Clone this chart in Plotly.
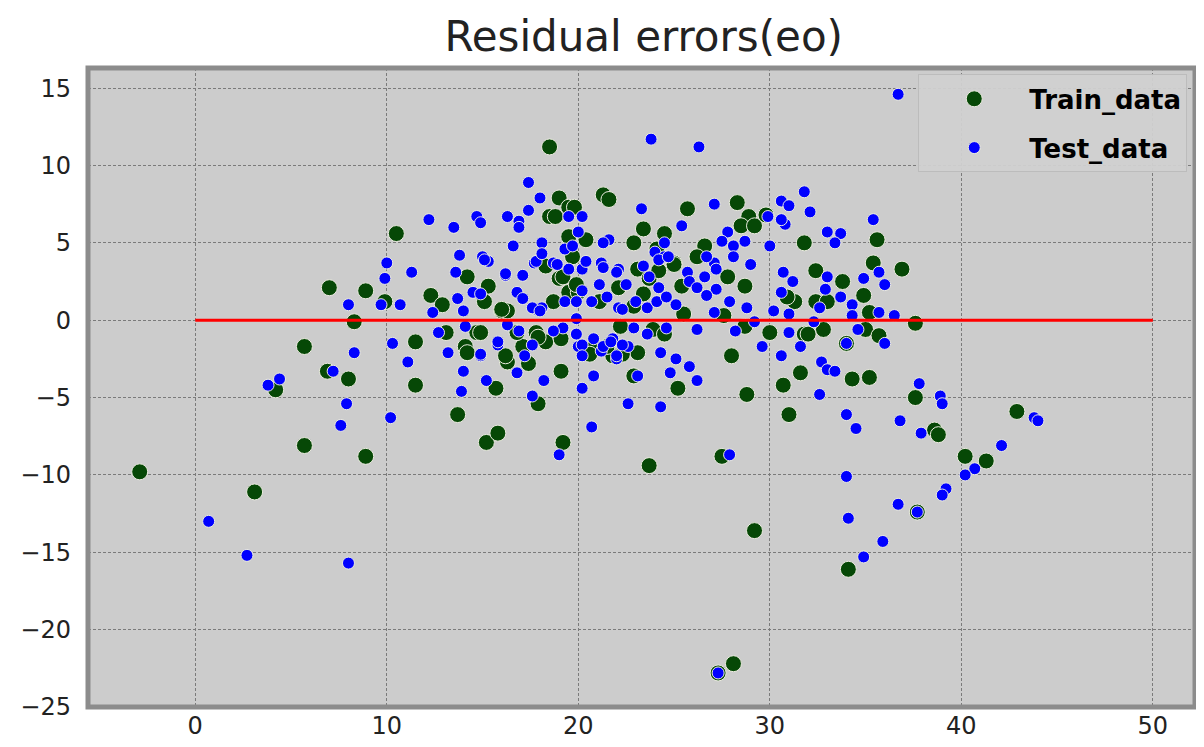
import plotly.graph_objects as go

# Training residuals (green)
train_x = [-2.9, 3.1, 4.2, 5.7, 6.9, 7.0, 5.7, 18.5, 19.0, 18.5, 18.8, 10.5, 19.5, 14.2, 15.3,
           8.9, 9.9, 12.3, 12.9, 8.3, 16.0, 16.3, 18.3, 19.0, 18.7, 19.5, 19.5, 21.3, 21.6, 25.7,
           28.3, 28.9, 28.5, 29.2, 29.8, 23.4, 22.9, 24.5, 19.8, 20.4, 26.6, 26.2, 24.1, 25.0, 27.8,
           28.7, 25.4, 23.1, 23.7, 31.3, 30.9, 31.8, 22.9, 21.1, 20.0, 11.5, 13.1, 14.7, 14.1, 14.2,
           8.0, 11.5, 13.7, 15.7, 15.2, 15.8, 8.9, 16.3, 17.4, 17.9, 19.1, 19.2, 18.3, 17.1, 17.8,
           16.8, 23.1, 22.9, 25.2, 28.0, 28.8, 30.7, 31.6, 31.0, 23.7, 27.5, 30.0, 31.8, 20.7, 21.8,
           35.6, 32.4, 35.4, 36.9, 33.8, 34.9, 32.4, 33.0, 35.2, 37.6, 35.0, 32.8, 32.0, 35.7, 34.0,
           34.3, 35.2, 37.6, 38.6, 38.8, 42.9, 40.2, 41.3, 37.7, 34.1, 29.2, 28.1, 27.3, 16.0, 14.9,
           19.2, 19.9, 17.9, 19.1, 16.2, 19.7, 21.5, 15.1, 20.6, 22.1, 23.4, 24.2, 25.0, 25.5, 23.9,
           24.5, 22.2, 27.6, 28.7, 22.3]
train_y = [-9.8, -11.1, -4.5, -1.7, -3.3, 2.1, -8.1, 11.2, 7.9, 6.7, 6.7, 5.6, 7.3, 2.8, 2.2,
           1.9, 1.2, 1.6, 1.0, -0.1, 0.6, 0.6, 3.5, 2.7, 1.2, 1.8, 5.4, 8.1, 7.8, 7.2,
           7.6, 6.7, 6.1, 6.1, 6.8, 5.9, 5.0, 5.6, 7.3, 5.2, 4.8, 4.1, 4.6, 3.7, 2.8,
           2.2, 2.2, 3.3, 2.7, 1.2, 1.5, 5.0, 0.9, 1.2, 1.8, -1.4, -0.8, -0.8, -1.7, -2.1,
           -3.8, -4.2, -6.1, -4.4, -7.9, -7.3, -8.8, -2.7, -2.8, -5.4, -3.3, -7.9, -1.4, -1.7, -0.8,
           -0.8, -2.1, -3.6, -4.4, -2.3, -4.8, -4.2, -3.4, -6.1, -9.4, -8.8, -0.8, -0.9, -1.9, -2.3,
           5.2, 3.2, 3.7, 3.3, 2.5, 1.6, 1.2, 1.2, 0.5, -0.2, -0.6, -0.6, -0.9, -1.0, -1.5,
           -3.8, -3.7, -5.0, -7.1, -7.4, -5.9, -8.8, -9.1, -12.4, -16.1, -13.6, -22.2, -22.8, 0.7, -0.8,
           2.8, 2.3, -1.1, -1.2, -2.3, 4.1, -1.7, 1.2, -2.2, 2.1, 1.7, 3.2, 3.6, 0.4, -0.6,
           -0.9, -0.4, 0.3, -0.4, -2.2]

# Test residuals (blue)
test_x = [3.8, 4.4, 7.2, 0.7, 2.7, 8.0, 17.4, 18.0, 17.4, 12.2, 13.5, 14.7, 14.9, 16.3, 16.9,
          16.9, 16.6, 18.1, 13.8, 15.0, 15.3, 10.0, 9.9, 11.3, 13.6, 16.2, 17.1, 16.8, 17.1, 8.0,
          9.7, 10.7, 13.7, 14.5, 14.9, 14.0, 12.4, 17.7, 17.8, 18.1, 19.3, 18.7, 19.3, 23.8, 26.3,
          23.3, 27.1, 25.4, 31.8, 30.6, 31.0, 30.8, 30.6, 29.9, 20.2, 19.5, 24.5, 27.8, 27.5, 28.1,
          28.7, 30.0, 29.0, 30.7, 31.2, 27.1, 26.7, 26.6, 25.7, 27.2, 27.9, 28.8, 27.1, 30.2, 30.6,
          31.0, 21.6, 21.3, 20.0, 19.7, 24.0, 24.5, 23.4, 22.1, 21.2, 20.2, 19.5, 8.3, 10.3, 11.1,
          12.7, 13.2, 14.0, 13.9, 14.9, 15.2, 15.8, 16.8, 18.2, 17.6, 19.0, 7.9, 7.6, 10.2, 14.1,
          17.2, 17.6, 20.2, 20.8, 20.7, 22.6, 24.3, 23.1, 22.0, 24.3, 25.1, 24.8, 25.8, 26.2, 26.2,
          28.2, 29.6, 30.6, 31.0, 31.6, 27.9, 22.6, 21.2, 20.0, 21.8, 23.6, 22.9, 32.1, 35.4, 33.0,
          33.7, 33.4, 35.7, 36.0, 34.9, 33.0, 32.9, 33.7, 34.3, 32.6, 34.3, 35.7, 36.5, 34.6, 34.0,
          36.0, 32.7, 33.0, 33.4, 32.6, 37.8, 38.9, 39.0, 34.0, 36.8, 34.5, 37.9, 32.3, 36.7, 43.8,
          44.0, 42.1, 40.7, 40.2, 39.2, 39.0, 37.7, 36.7, 34.0, 34.1, 35.9, 34.9, 27.3, 15.1, 16.2,
          17.8, 18.1, 18.9, 20.4, 21.3, 22.0, 21.1, 20.2, 19.9, 20.7, 21.5, 22.1, 17.6, 18.0, 16.9,
          15.8, 14.9, 19.2, 19.9, 20.2, 20.8, 21.3, 21.7, 22.3, 22.0, 20.2, 18.7, 16.3, 19.9, 22.5,
          23.7, 24.2, 24.7, 25.8, 27.2, 28.1, 26.2, 26.7, 23.0, 23.6, 24.1, 24.6, 24.2, 25.1, 22.3,
          24.6, 29.2]
test_y = [-4.2, -3.8, -3.3, -13.0, -15.2, -15.7, 8.9, 7.9, 7.1, 6.5, 6.0, 6.7, 6.3, 6.7, 6.4,
          6.0, 4.8, 5.0, 4.2, 4.1, 3.8, 3.7, 2.7, 3.1, 3.1, 2.9, 2.9, 1.8, 1.4, 1.0,
          1.0, 1.0, 1.4, 1.8, 1.7, 0.6, 0.5, 3.7, 0.7, 0.8, 1.2, 3.7, 4.6, 11.7, 11.2,
          7.2, 7.5, 6.1, 8.3, 7.7, 7.4, 6.2, 6.5, 6.7, 6.7, 6.7, 5.0, 5.7, 5.1, 4.8,
          5.1, 4.8, 3.6, 3.1, 2.5, 3.7, 4.1, 2.8, 3.1, 2.0, 1.2, 0.8, 0.5, 0.6, 1.8,
          0.4, 5.2, 5.0, 5.7, 4.8, 4.4, 4.1, 3.5, 3.3, 3.7, 3.3, 3.3, -2.1, -1.5, -2.7,
          -0.8, -2.1, -3.3, -4.6, -2.3, -3.9, -1.6, -3.4, -3.9, -4.9, -8.7, -5.4, -6.8, -6.3, -0.4,
          -2.3, -1.6, -4.4, -3.6, -6.9, -5.4, -5.6, -3.6, -2.5, -2.1, -2.5, -3.4, -3.0, -3.9, -0.6,
          -0.7, -1.7, -2.3, -0.8, -1.7, -8.7, -1.7, -2.0, -1.7, -1.2, -0.9, -0.5, 7.0, 6.5, 5.7,
          5.6, 5.0, 3.1, 2.3, 2.7, 2.8, 2.0, 1.5, 1.0, 0.8, 0.3, 0.5, 0.3, -0.6, -1.5,
          -1.5, -2.7, -3.2, -3.3, -4.8, -4.1, -4.9, -5.4, -6.1, -6.5, -7.0, -7.3, -0.1, 14.6, -6.3,
          -6.5, -8.1, -9.6, -10.0, -10.9, -11.3, -12.4, -11.9, -10.1, -12.8, -14.3, -15.3, -22.8, 3.9, 3.0,
          3.8, 4.3, 3.6, 3.8, 3.4, 3.1, 2.3, 1.9, 1.2, 1.2, 1.5, 0.8, 0.8, 0.6, -0.7,
          -1.4, -2.2, -0.5, -0.9, -1.6, -1.2, -1.7, -1.4, -1.6, -2.3, -2.3, -0.7, -0.3, 0.1, 2.3,
          2.8, 3.9, 4.1, 2.5, 3.3, 4.1, 2.1, 1.6, 1.2, 0.8, 1.2, 1.5, 2.1, 1.0, 0.7,
          -0.5, -0.1]

zero_x = [0, 50]
zero_y = [0, 0]

x_ticks = [0, 10, 20, 30, 40, 50]
y_ticks = [-25, -20, -15, -10, -5, 0, 5, 10, 15]

fig = go.Figure()
fig.add_trace(go.Scatter(
    x=train_x, y=train_y, mode="markers", name="Train_data", legendgroup="train",
    marker=dict(color="#064806", size=16, line=dict(color="#ecece0", width=1)),
))
fig.add_trace(go.Scatter(
    x=test_x, y=test_y, mode="markers", name="Test_data", legendgroup="test",
    marker=dict(color="#0000ff", size=12, line=dict(color="#ecece0", width=1)),
))
fig.add_trace(go.Scatter(
    x=zero_x, y=zero_y, mode="lines", showlegend=False,
    line=dict(color="#ff0000", width=3),
))

axis_common = dict(
    showgrid=True, gridcolor="#7a7a7a", gridwidth=1, griddash="3px,2px",
    zeroline=False, showline=False, ticks="",
    tickfont=dict(family="DejaVu Sans", size=24, color="#222222"),
)

fig.update_layout(
    width=1204, height=747,
    margin=dict(l=77, r=17, t=60, b=48),
    paper_bgcolor="white",
    plot_bgcolor="#cccccc",
    title=dict(text="Residual errors(eo)", x=0.528, xanchor="center", y=0.962, yanchor="middle",
               font=dict(family="DejaVu Sans", size=42, color="#222222")),
    xaxis=dict(range=[-5.6, 52.2], tickvals=x_ticks, ticklabelstandoff=2, **axis_common),
    yaxis=dict(range=[-25, 16.3], tickvals=y_ticks, ticklabelstandoff=16, **axis_common),
    legend=dict(
        x=0.993, y=0.99, xanchor="right", yanchor="top",
        bgcolor="rgba(208,208,208,0.95)", bordercolor="#bcbcbc", borderwidth=1,
        font=dict(family="DejaVu Sans", size=26, color="#000000", weight="bold"),
        itemwidth=100, tracegroupgap=12,
    ),
    showlegend=True,
    shapes=[dict(type="rect", xref="paper", yref="paper", x0=0, x1=1, y0=0, y1=1,
                 line=dict(color="#8c8c8c", width=5), layer="above")],
)

fig.write_html("out.html")
